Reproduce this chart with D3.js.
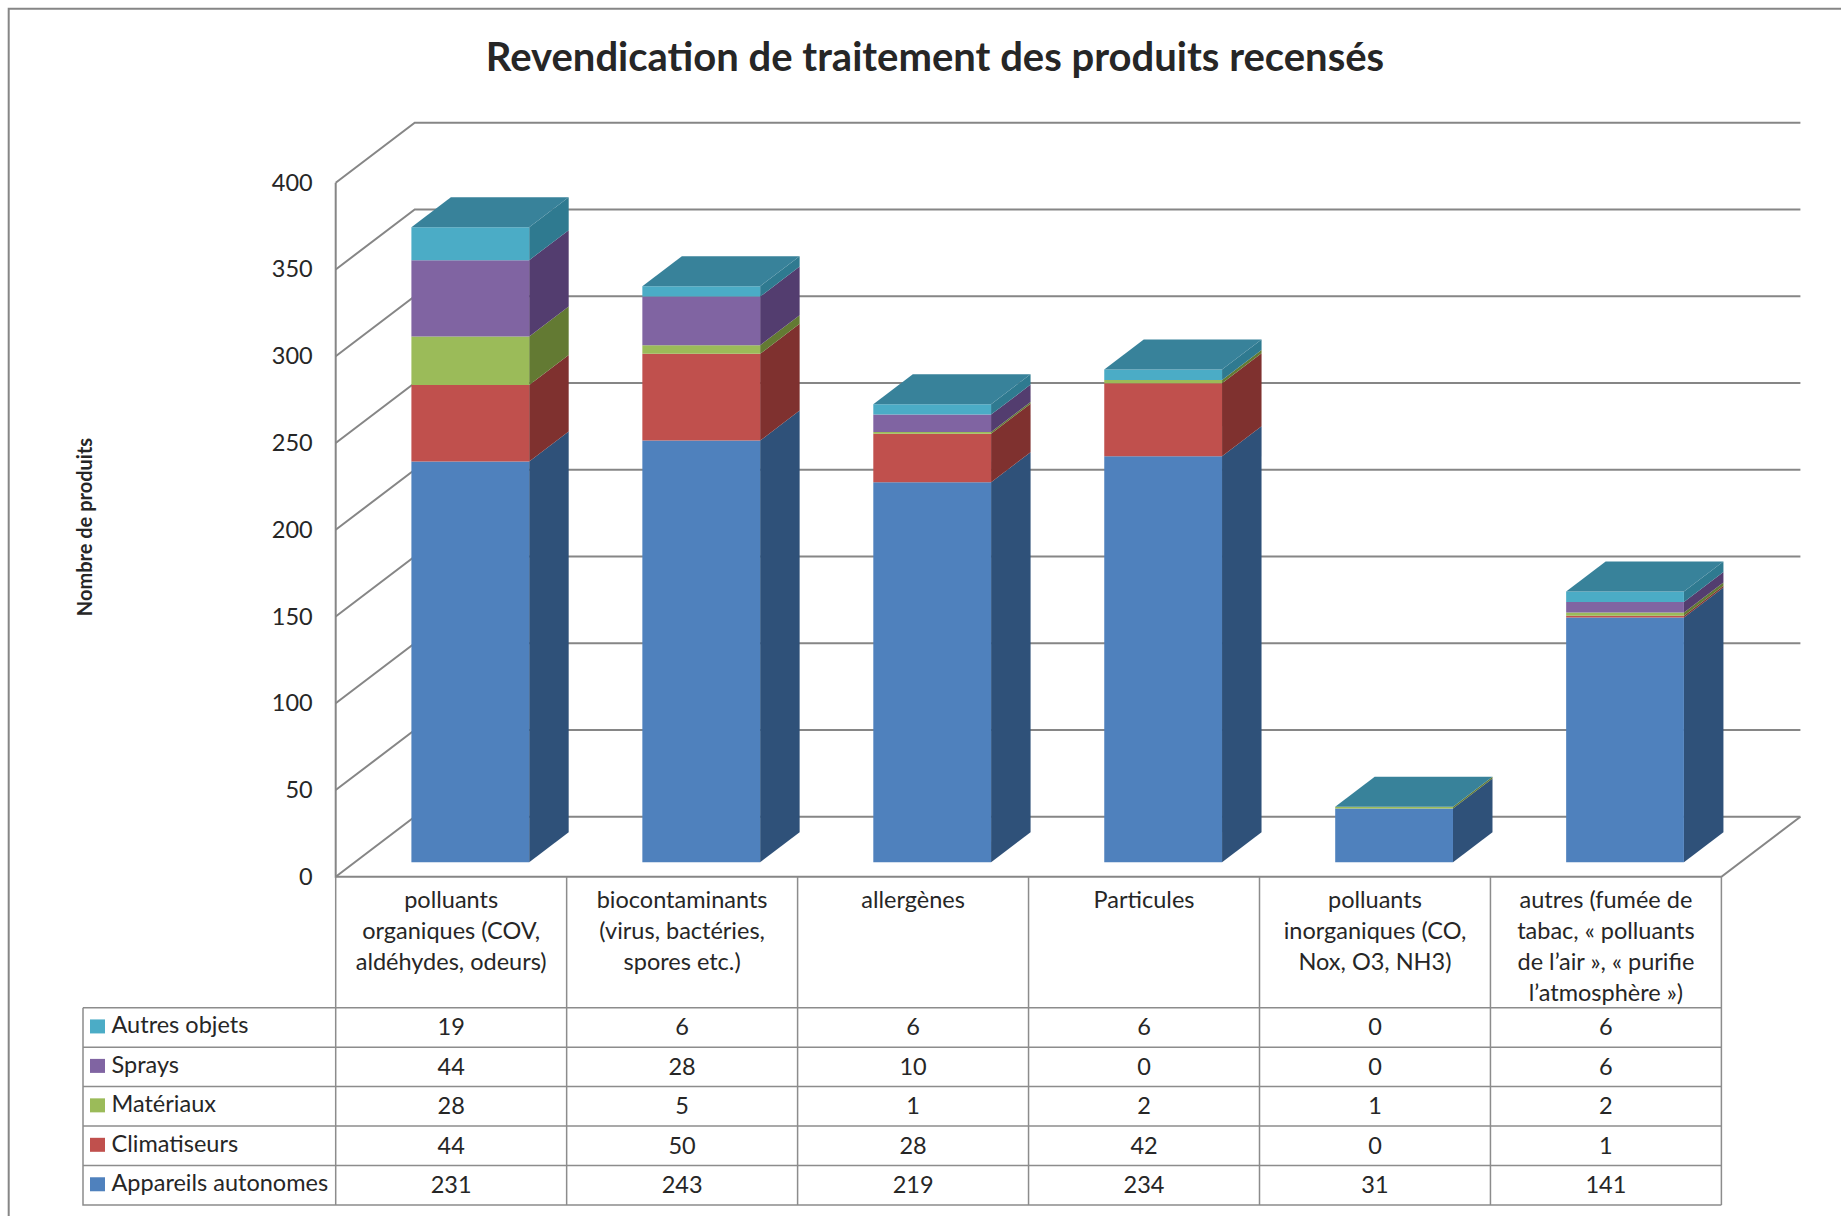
<!DOCTYPE html>
<html lang="fr">
<head>
<meta charset="utf-8">
<title>Revendication de traitement des produits recensés</title>
<script src="https://d3js.org/d3.v7.min.js"></script>
<style>
    html, body { margin: 0; padding: 0; background: #fff; }
    svg { display: block; font-family: Lato, "Open Sans", sans-serif; fill: #262626; }
    .grid-line { fill: none; stroke: #868686; stroke-width: 2; }
    .table-line { fill: none; stroke: #8c8c8c; stroke-width: 1.5; }
    .chart-text { font-size: 23.5px; }
</style>
</head>
<body>
<div id="chart"></div>
<script>
///// DATA
const categories = [
    ['polluants', 'organiques (COV,', 'aldéhydes, odeurs)'],
    ['biocontaminants', '(virus, bactéries,', 'spores etc.)'],
    ['allergènes'],
    ['Particules'],
    ['polluants', 'inorganiques (CO,', 'Nox, O3, NH3)'],
    ['autres (fumée de', 'tabac, « polluants', 'de l’air », « purifie', 'l’atmosphère »)']
];
const seriesNames = ['Appareils autonomes', 'Climatiseurs', 'Matériaux', 'Sprays', 'Autres objets'];
const appareils = [231, 243, 219, 234, 31, 141];
const climatiseurs = [44, 50, 28, 42, 0, 1];
const materiaux = [28, 5, 1, 2, 1, 2];
const sprays = [44, 28, 10, 0, 0, 6];
const autresObjets = [19, 6, 6, 6, 0, 6];
const yTicks = [0, 50, 100, 150, 200, 250, 300, 350, 400];

const frontColors = ['#4f81bd', '#c0504d', '#9bbb59', '#8064a2', '#4bacc6'];
const sideColors = ['#2f5179', '#7f312f', '#637a33', '#533d6f', '#2f7a90'];
const topColor = '#38829a';

const seriesValues = [appareils, climatiseurs, materiaux, sprays, autresObjets];

///// LAYOUT
const WIDTH = 1841;
const HEIGHT = 1216;
const PLOT = { left: 335.7, right: 1721.4, top: 182.7, bottom: 876.8 };
const WALL = { dx: 79, dy: -60 };
const BAR_DEPTH = [0.242, 0.742];
const TABLE = { left: 83, headerBottom: 1007.7, bottom: 1205 };

const svg = d3.select('#chart').append('svg')
    .attr('width', WIDTH)
    .attr('height', HEIGHT);

// SCALES
const keys = categories.map((d, i) => i);

const x = d3.scaleBand()
    .domain(keys)
    .range([PLOT.left, PLOT.right])
    .paddingInner(.49)
    .paddingOuter(.245);

const column = d3.scaleBand()
    .domain(keys)
    .range([PLOT.left, PLOT.right]);

const y = d3.scaleLinear()
    .domain([0, 400])
    .range([PLOT.bottom, PLOT.top]);

const row = d3.scaleBand()
    .domain(seriesNames.slice().reverse())
    .range([TABLE.headerBottom, TABLE.bottom]);

const depthX = d3.scaleLinear().domain([0, 1]).range([0, WALL.dx]);
const depthY = d3.scaleLinear().domain([0, 1]).range([0, WALL.dy]);

// FRONT POINT (x, value, depth) TO SCREEN
const project = (px, value, depth) => [px + depthX(depth), y(value) + depthY(depth)];
const face = d3.line();

// STACK
const rows = keys.map(i => {
    const obj = { key: i };
    seriesNames.forEach((name, s) => obj[name] = seriesValues[s][i]);
    return obj;
});
const stacked = d3.stack().keys(seriesNames)(rows);

// CHART FRAME (NO RIGHT OR BOTTOM EDGE IN THE PICTURE)
svg.append('path')
    .attr('class', 'grid-line')
    .attr('d', face([[8.7, HEIGHT], [8.7, 8.7], [WIDTH, 8.7]]));

// TITLE
svg.append('text')
    .attr('x', 935)
    .attr('y', 71)
    .attr('text-anchor', 'middle')
    .style('font-size', '40px')
    .style('font-weight', 700)
    .text('Revendication de traitement des produits recensés');

svg.append('text')
    .attr('transform', 'translate(92, 527) rotate(-90)')
    .attr('text-anchor', 'middle')
    .style('font-size', '20px')
    .style('font-weight', 700)
    .text('Nombre de produits');

// WALLS AND GRIDLINES
svg.append('g').selectAll('path')
    .data(yTicks)
    .enter()
    .append('path')
    .attr('class', 'grid-line')
    .attr('d', d => face([
        project(PLOT.left, d, 0),
        project(PLOT.left, d, 1),
        project(PLOT.right, d, 1)
    ]));

svg.append('path')
    .attr('class', 'grid-line')
    .attr('d', face([
        project(PLOT.left, 400, 0),
        project(PLOT.left, 0, 0),
        project(PLOT.right, 0, 0),
        project(PLOT.right, 0, 1)
    ]));

// Y AXIS
const yAxis = svg.append('g')
    .attr('class', 'chart-text')
    .attr('transform', `translate(${PLOT.left}, 0)`)
    .call(d3.axisLeft(y).tickValues(yTicks).tickSize(0).tickPadding(23));
yAxis.select('.domain').remove();
yAxis.selectAll('text').style('font-family', 'Lato').style('font-size', '23.5px').attr('fill', '#262626');

// BARS
const bars = svg.append('g').selectAll('g')
    .data(keys)
    .enter()
    .append('g');

bars.each(function (i) {
    const g = d3.select(this);
    const left = x(i);
    const right = left + x.bandwidth();

    stacked.forEach((layer, s) => {
        const [v0, v1] = layer[i];
        if (v1 === v0) return;

        g.append('path')
            .attr('fill', sideColors[s])
            .attr('d', face([
                project(right, v0, BAR_DEPTH[0]),
                project(right, v0, BAR_DEPTH[1]),
                project(right, v1, BAR_DEPTH[1]),
                project(right, v1, BAR_DEPTH[0])
            ]));

        g.append('path')
            .attr('fill', frontColors[s])
            .attr('d', face([
                project(left, v0, BAR_DEPTH[0]),
                project(right, v0, BAR_DEPTH[0]),
                project(right, v1, BAR_DEPTH[0]),
                project(left, v1, BAR_DEPTH[0])
            ]));
    });

    const total = stacked[stacked.length - 1][i][1];
    g.append('path')
        .attr('fill', topColor)
        .attr('d', face([
            project(left, total, BAR_DEPTH[0]),
            project(right, total, BAR_DEPTH[0]),
            project(right, total, BAR_DEPTH[1]),
            project(left, total, BAR_DEPTH[1])
        ]));
});

// DATA TABLE LINES
const table = svg.append('g');

table.selectAll('.col-line')
    .data(keys.concat(keys.length))
    .enter()
    .append('path')
    .attr('class', 'table-line col-line')
    .attr('d', i => {
        const px = PLOT.left + i * column.step();
        return face([[px, PLOT.bottom], [px, TABLE.bottom]]);
    });

table.selectAll('.row-line')
    .data(seriesNames)
    .enter()
    .append('path')
    .attr('class', 'table-line row-line')
    .attr('d', d => face([[TABLE.left, row(d)], [PLOT.right, row(d)]]));

table.append('path')
    .attr('class', 'table-line')
    .attr('d', face([
        [TABLE.left, TABLE.headerBottom],
        [TABLE.left, TABLE.bottom],
        [PLOT.right, TABLE.bottom]
    ]));

// CATEGORY LABELS
const labels = table.selectAll('.cat-label')
    .data(categories)
    .enter()
    .append('text')
    .attr('class', 'cat-label chart-text')
    .attr('text-anchor', 'middle');

labels.selectAll('tspan')
    .data((d, i) => d.map((line, n) => ({ line, n, i })))
    .enter()
    .append('tspan')
    .attr('x', d => column(d.i) + column.bandwidth() / 2)
    .attr('y', d => 907.5 + d.n * 31)
    .text(d => d.line);

// LEGEND KEYS AND SERIES NAMES
const legend = table.selectAll('.legend')
    .data(seriesNames)
    .enter()
    .append('g')
    .attr('class', 'legend')
    .attr('transform', d => `translate(${TABLE.left}, ${row(d) + row.bandwidth() / 2})`);

legend.append('rect')
    .attr('x', 7)
    .attr('y', -8)
    .attr('width', 15)
    .attr('height', 14)
    .attr('fill', (d, s) => frontColors[s]);

legend.append('text')
    .attr('class', 'chart-text')
    .attr('x', 28.5)
    .attr('y', 6)
    .text(d => d);

// TABLE VALUES
seriesNames.forEach((name, s) => {
    table.selectAll(`.val-${s}`)
        .data(seriesValues[s])
        .enter()
        .append('text')
        .attr('class', `val-${s} chart-text`)
        .attr('text-anchor', 'middle')
        .attr('x', (d, i) => column(i) + column.bandwidth() / 2)
        .attr('y', row(name) + row.bandwidth() / 2 + 8)
        .text(d => d);
});
</script>
</body>
</html>
